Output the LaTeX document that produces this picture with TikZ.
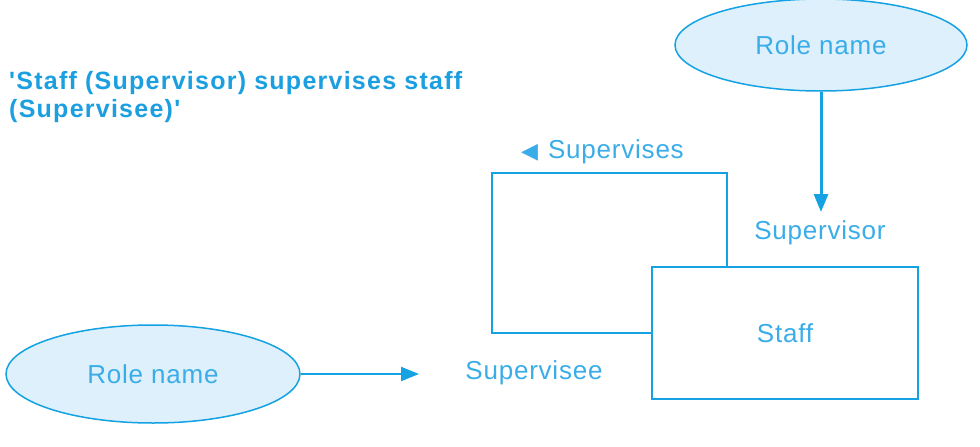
\documentclass[tikz,border=0pt]{standalone}
\usepackage{fontspec}
\setmainfont{Liberation Sans}[LetterSpace=3, Ligatures=TeXOff]
\newfontfamily\headfont{Liberation Sans}[LetterSpace=5, Ligatures=TeXOff]
\newfontfamily\symfont{DejaVu Sans}
\usetikzlibrary{shapes.geometric,arrows.meta}
\definecolor{lineblue}{HTML}{14A2E2}
\definecolor{textblue}{HTML}{3AADE8}
\definecolor{headblue}{HTML}{1C9FE0}
\definecolor{fillblue}{HTML}{DDF0FC}
\tikzset{
  rolebox/.style={ellipse, draw=lineblue, line width=1.5pt, fill=fillblue, text=textblue, inner sep=0pt, font=\fontsize{26}{28}\selectfont},
  entitybox/.style={rectangle, draw=lineblue, line width=2.5pt, text=textblue, inner sep=0pt, font=\fontsize{26}{28}\selectfont},
  lbl/.style={text=textblue, inner sep=0pt, font=\fontsize{26}{28}\selectfont},
  conn/.style={draw=lineblue, line width=2pt, -{Triangle[length=18pt,width=14pt]}},
  looprel/.style={draw=lineblue, line width=2.5pt},
}
\begin{document}
\begin{tikzpicture}[x=1pt,y=-1pt]
\useasboundingbox[fill=white] (0,0) rectangle (980,447);
\node[anchor=west, align=left, text=headblue, inner sep=0pt, font=\headfont\bfseries\fontsize{25}{28}\selectfont] (head) at (9,97) {'Staff (Supervisor) supervises staff\\(Supervisee)'};
\node[rolebox, minimum width=292pt, minimum height=92pt] (roleA) at (821,45) {Role name};
\node[rolebox, minimum width=294pt, minimum height=98pt] (roleB) at (153,374) {Role name};
\node[entitybox, fill=white, minimum width=266pt, minimum height=132pt] (staff) at (785,333) {Staff};
\coordinate (rt) at (727,173);
\coordinate (lt) at (492,173);
\draw[looprel] (staff.north -| rt) -- (rt) -- (lt) -- (lt |- staff.west) -- (staff.west);
\coordinate (supTip) at (821,212);
\coordinate (subTip) at (419,374);
\draw[conn, line width=3pt] (roleA.south) -- (supTip);
\draw[conn] (roleB.east) -- (subTip);
\node[lbl] (supervisor) at (820,233) {Supervisor};
\node[lbl] (supervisee) at (534,373) {Supervisee};
\node[lbl, anchor=west] (supervises) at (521,152) {{\symfont\fontsize{22}{24}\selectfont ◀}\hspace{10pt}Supervises};
\end{tikzpicture}
\end{document}
